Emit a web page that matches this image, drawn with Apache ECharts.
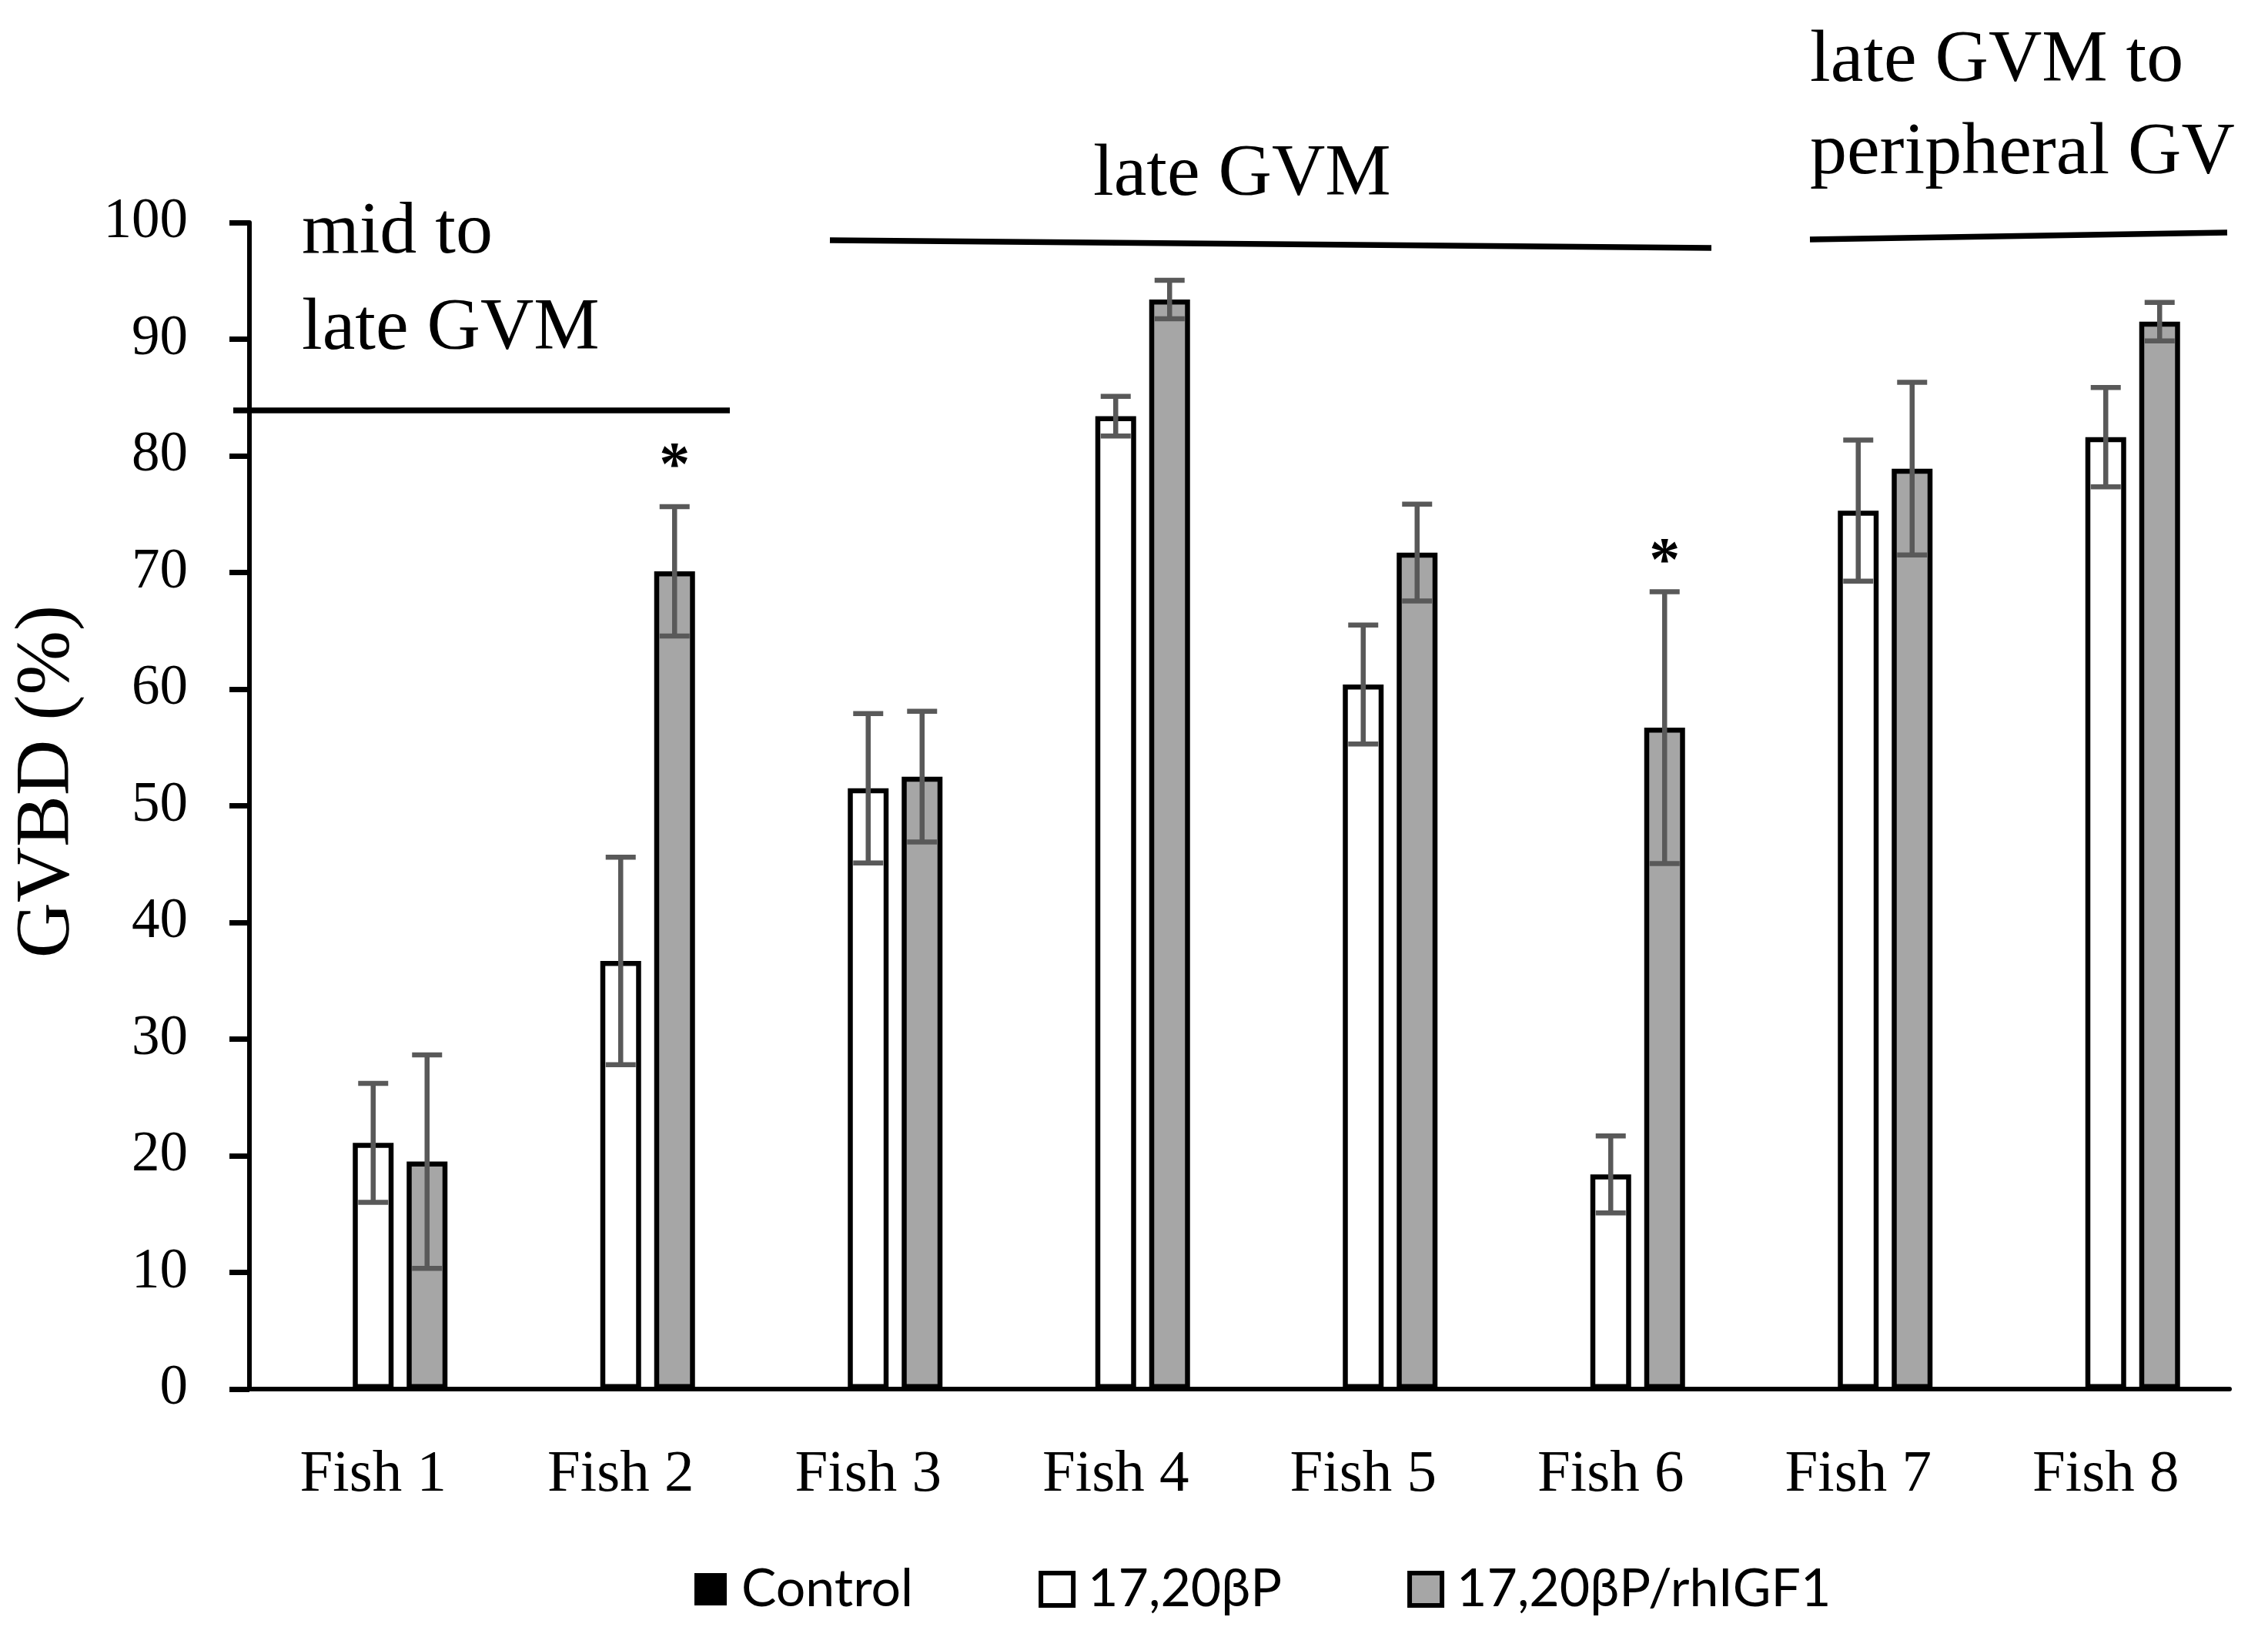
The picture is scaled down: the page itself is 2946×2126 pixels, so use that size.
<!DOCTYPE html>
<html>
<head>
<meta charset="utf-8">
<script src="https://cdn.jsdelivr.net/npm/echarts@6/dist/echarts.min.js"></script>
<style>
html,body{margin:0;padding:0;background:#fff;}
#chart{width:2946px;height:2126px;}
</style>
</head>
<body>
<div id="chart"></div>
<script>
// ---- data ----
var categories = ['Fish 1','Fish 2','Fish 3','Fish 4','Fish 5','Fish 6','Fish 7','Fish 8'];
var seriesNames = ['Control','17,20βP','17,20βP/rhIGF1'];
var controlValues = [0,0,0,0,0,0,0,0];
var p17Values = [21.1, 36.7, 51.5, 83.4, 60.4, 18.4, 75.3, 81.6];
var p17Errors = [5.1, 8.9, 6.4, 1.7, 5.1, 3.3, 6.05, 4.25];
var igfValues = [19.5, 70.1, 52.5, 93.4, 71.7, 56.7, 78.9, 91.5];
var igfErrors = [9.15, 5.55, 5.6, 1.65, 4.15, 11.65, 7.4, 1.65];
var sigMarkY = [null, 80.1, null, null, null, 71.9, null, null]; // '*' above 17,20βP/rhIGF1
var yTicks = {min: 0, max: 100, interval: 10};
var groupLabels = ['mid to\nlate GVM', 'late GVM', 'late GVM to\nperipheral GV'];

// ---- style constants ----
var SERIF = 'Liberation Serif';
var SANS = 'Lato';
var BAR_W = 53, BAR_GAP = 17;
var ERR_COLOR = '#595959';

var chart = echarts.init(document.getElementById('chart'), null, {renderer: 'canvas'});

function errSeries(values, errors, seriesIndex) {
  var data = values.map(function (v, i) { return [i, v, errors[i]]; });
  return {
    type: 'custom',
    name: seriesNames[seriesIndex] + ' err',
    z: 10,
    silent: true,
    data: data,
    renderItem: function (params, api) {
      var idx = api.value(0), v = api.value(1), e = api.value(2);
      var top = api.coord([idx, v + e]);
      var bot = api.coord([idx, v - e]);
      var off = (seriesIndex - 1) * (BAR_W + BAR_GAP);
      var x = top[0] + off;
      var hw = 19.5;
      var st = {stroke: ERR_COLOR, lineWidth: 6.5};
      return {
        type: 'group',
        children: [
          {type: 'line', shape: {x1: x, y1: top[1], x2: x, y2: bot[1]}, style: st},
          {type: 'line', shape: {x1: x - hw, y1: top[1], x2: x + hw, y2: top[1]}, style: st},
          {type: 'line', shape: {x1: x - hw, y1: bot[1], x2: x + hw, y2: bot[1]}, style: st}
        ]
      };
    }
  };
}

var sigData = [];
sigMarkY.forEach(function (v, i) { if (v !== null) sigData.push([i, v]); });

var option = {
  backgroundColor: '#ffffff',
  animation: false,
  grid: {left: 324, right: 50, top: 289, bottom: 322, containLabel: false},
  legend: {
    data: seriesNames.map(function (n, i) {
      return {
        name: n,
        itemStyle: i === 0 ? {color: '#000', borderWidth: 0}
          : {color: i === 1 ? '#ffffff' : '#A6A6A6', borderColor: '#000', borderWidth: 6}
      };
    }),
    left: 897, top: 2025,
    itemWidth: 42, itemHeight: 42,
    itemGap: 163,
    icon: 'rect',
    textStyle: {fontFamily: SANS, fontSize: 68, color: '#000', padding: [0, 0, 0, 14]}
  },
  xAxis: {
    type: 'category',
    data: categories,
    axisLine: {lineStyle: {color: '#000', width: 6}},
    axisTick: {show: false},
    axisLabel: {fontFamily: SERIF, fontSize: 77, color: '#000', margin: 73},
    splitLine: {show: false}
  },
  yAxis: {
    type: 'value',
    min: yTicks.min, max: yTicks.max, interval: yTicks.interval,
    axisLine: {show: true, lineStyle: {color: '#000', width: 6}},
    axisTick: {show: true, length: 26, lineStyle: {color: '#000', width: 7}},
    axisLabel: {fontFamily: SERIF, fontSize: 73, color: '#000', margin: 80},
    splitLine: {show: false}
  },
  series: [
    {name: seriesNames[0], type: 'bar', data: controlValues, barWidth: BAR_W, barGap: (BAR_GAP / BAR_W * 100) + '%',
     itemStyle: {color: '#000', borderWidth: 0}},
    {name: seriesNames[1], type: 'bar', data: p17Values, barWidth: BAR_W,
     itemStyle: {color: '#ffffff', borderColor: '#000', borderWidth: 6.5}},
    {name: seriesNames[2], type: 'bar', data: igfValues, barWidth: BAR_W,
     itemStyle: {color: '#A6A6A6', borderColor: '#000', borderWidth: 6.5}},
    errSeries(p17Values, p17Errors, 1),
    errSeries(igfValues, igfErrors, 2),
    {
      type: 'custom', name: 'sig', z: 11, silent: true, data: sigData,
      renderItem: function (params, api) {
        var p = api.coord([api.value(0), api.value(1)]);
        return {
          type: 'text',
          style: {text: '*', x: p[0] + (BAR_W + BAR_GAP), y: p[1] + 18, fill: '#000',
                  font: 'bold 80px "' + SERIF + '"', align: 'center', verticalAlign: 'middle'}
        };
      }
    }
  ],
  graphic: [
    {type: 'line', shape: {x1: 303, y1: 533, x2: 948, y2: 533}, style: {stroke: '#000', lineWidth: 7.5}},
    {type: 'line', shape: {x1: 1078, y1: 312, x2: 2223, y2: 322}, style: {stroke: '#000', lineWidth: 7.5}},
    {type: 'line', shape: {x1: 2351, y1: 311, x2: 2893, y2: 302}, style: {stroke: '#000', lineWidth: 7.5}},
    {type: 'text', left: 392, top: 240, style: {text: groupLabels[0], font: '96px "' + SERIF + '"', fill: '#000', lineHeight: 125}},
    {type: 'text', left: 1420, top: 165, style: {text: groupLabels[1], font: '96px "' + SERIF + '"', fill: '#000', lineHeight: 125}},
    {type: 'text', left: 2351, top: 20, style: {text: groupLabels[2], font: '96px "' + SERIF + '"', fill: '#000', lineHeight: 120}},
    {type: 'text', x: 62, y: 1015, rotation: Math.PI / 2,
     style: {text: 'GVBD (%)', font: '100px "' + SERIF + '"', fill: '#000', align: 'center', verticalAlign: 'middle'}}
  ]
};
chart.setOption(option);
</script>
</body>
</html>
